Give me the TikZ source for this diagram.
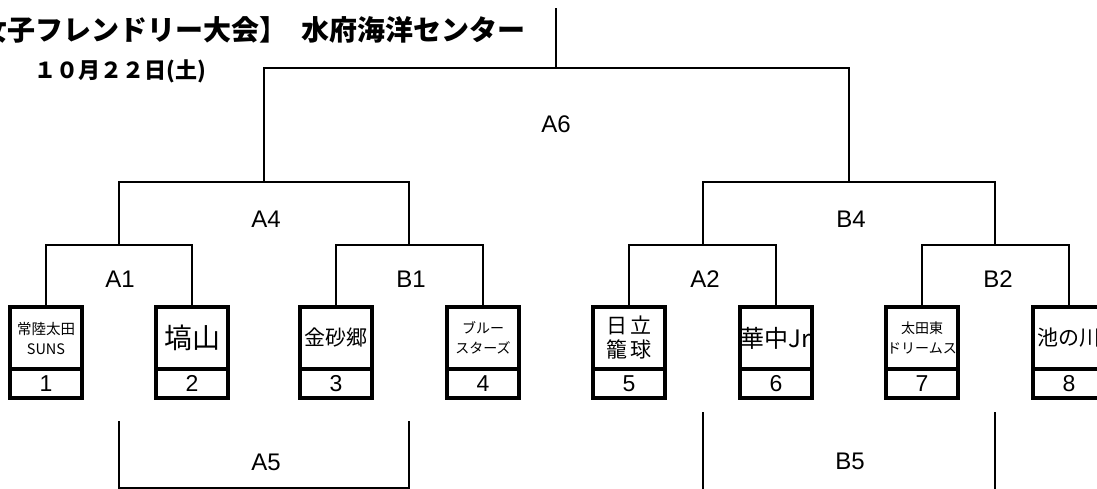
\documentclass[tikz,border=0pt]{standalone}
\usepackage{fontspec}
\setmainfont{Liberation Sans}
\newfontfamily\jp{Noto Sans CJK JP}
\usetikzlibrary{positioning}
\tikzstyle{every path}+=[line width=1.4pt]
\tikzset{
  team/.style={draw,line width=3.4pt,outer sep=0pt,inner sep=0pt,minimum width=72pt,minimum height=62pt,align=center},
  seed/.style={draw,line width=3.4pt,outer sep=0pt,inner sep=0pt,minimum width=72pt,minimum height=29pt,font=\fontsize{23}{23}\selectfont},
  game/.style={font=\fontsize{24}{24}\selectfont}
}
\begin{document}
\begin{tikzpicture}[x=1pt,y=-1pt]
    \useasboundingbox (0,0) rectangle (1097,489);

    % title
    \node[anchor=east,font=\jp\bfseries\fontsize{28}{28}\selectfont] (title) at (530,30) {【女子フレンドリー大会】\hspace{.5em}水府海洋センター};
    \node[font=\jp\bfseries\fontsize{22}{22}\selectfont] (date) at (120,71) {１０月２２日(土)};

    % teams with their numbers
    \foreach \n/\x/\fs/\bs/\name in {
        1/46/14.5/20/{常陸太田\\SUNS},
        2/192/28/30/{塙山},
        3/336/21/25/{金砂郷},
        4/483/14/20/{ブルー\\スターズ},
        5/629/21/24/{日\,立\\籠\,球},
        6/776/24/27/{華中Jr},
        7/922/14/20/{太田東\\ドリームス},
        8/1069/21/25/{池の川}}{
        \node[team,font=\jp\fontsize{\fs}{\bs}\selectfont] (t\n) at (\x,338) {\name};
        \node[seed,below=0pt of t\n] (s\n) {\n};
    }

    % first round
    \coordinate (a1) at (119,245);
    \coordinate (b1) at (409,245);
    \coordinate (a2) at (703,245);
    \coordinate (b2) at (995,245);
    \draw (t1.north) |- (a1) -| (t2.north);
    \draw (t3.north) |- (b1) -| (t4.north);
    \draw (t5.north) |- (a2) -| (t6.north);
    \draw (t7.north) |- (b2) -| (t8.north);

    % second round and final
    \coordinate (a4) at (264,182);
    \coordinate (b4) at (849,182);
    \coordinate (a6) at (556,68);
    \coordinate (top) at (556,8);
    \draw (a1) |- (a4) -| (b1);
    \draw (a2) |- (b4) -| (b2);
    \draw (a4) |- (a6) -| (b4);
    \draw (a6) -- (top);

    % lower brackets
    \coordinate (a5l) at (119,421);
    \coordinate (a5r) at (409,421);
    \coordinate (a5) at (264,488);
    \coordinate (b5l) at (703,412);
    \coordinate (b5r) at (995,412);
    \draw (a5l) |- (a5) -| (a5r);
    \draw (b5l) -- ++(0,90);
    \draw (b5r) -- ++(0,90);

    % game names
    \node[game] (la6) at (556,124) {A6};
    \node[game] (la4) at (266,219) {A4};
    \node[game] (lb4) at (851,219) {B4};
    \node[game] (la1) at (120,279) {A1};
    \node[game] (lb1) at (411,279) {B1};
    \node[game] (la2) at (705,279) {A2};
    \node[game] (lb2) at (998,279) {B2};
    \node[game] (la5) at (266,462) {A5};
    \node[game] (lb5) at (850,461) {B5};
\end{tikzpicture}
\end{document}
